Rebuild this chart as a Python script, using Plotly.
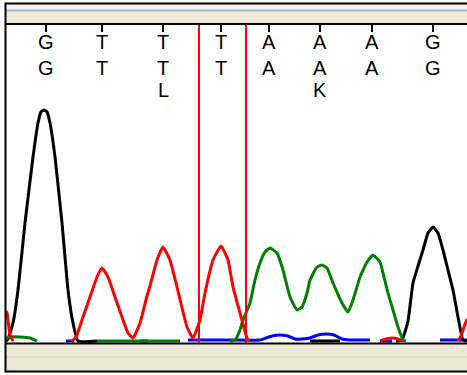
import plotly.graph_objects as go

W, H = 467, 375

# ---- base calls (scan position of each call) ----
base_pos = [46, 102, 163, 221, 269, 320, 372, 433]
call_row1 = ["G", "T", "T", "T", "A", "A", "A", "G"]
call_row2 = ["G", "T", "T", "T", "A", "A", "A", "G"]
call_row3 = ["", "", "L", "", "", "K", "", ""]

# ---- cursor / marker positions ----
marker_pos = [199, 246]

# ---- trace data: scan position vs. signal intensity ----
black_x = [6, 8, 13, 18, 25, 33, 38, 41, 44, 47, 50, 55, 62, 68, 73, 78, 97, None,
           310, 340, None,
           396, 402, 408, 413, 418, 423, 428, 433, 438, 443, 448, 453, 458, 463, 467]
black_y = [0, 2, 18, 51, 118, 184, 218, 229, 231, 229, 218, 184, 118, 51, 18, 0, 0, None,
           0, 0, None,
           0, 1, 20, 58, 75, 91, 108, 114, 108, 91, 71, 51, 24, 1, 0]

green_x = [6, 10, 20, 30, 37, None, 97, 180, None,
           230, 235, 240, 243, 250, 255, 260, 265, 270, 277, 283, 290, 297, 302, 307,
           310, 317, 322, 327, 333, 342, 348, 353, 360, 367, 373, 380, 383, 388, 393,
           398, 403, 406]
green_y = [2, 4, 4, 3, 0, None, 0, 0, None,
           0, 1, 11, 21, 38, 61, 78, 89, 93, 88, 71, 44, 31, 34, 48,
           61, 74, 76, 73, 58, 38, 29, 41, 64, 79, 86, 79, 68, 48, 31,
           14, 1, 0]

blue_x = [66, 74, None, 140, 148, None,
          188, 230, 260, 266, 272, 280, 288, 295, 302, 310, 318, 326, 334, 342, 350, 370, None,
          380, 392, None, 440, 467]
blue_y = [0, 0, None, 0, 0, None,
          1, 1, 1, 3, 5, 6, 5, 2, 2, 3, 6, 7, 6, 2, 1, 1, None,
          0, 0, None, 1, 1]

red_x = [6, 7, 10, 13, None,
         72, 76, 83, 90, 97, 102, 108, 115, 122, 128, 133, 140, 147, 150, 157, 163, 170,
         177, 187, 193, 200, 205, 213, 221, 228, 233, 240, 247, 249, None,
         380, 386, 392, 398, 402, None,
         458, 461, 464, 467]
red_y = [30, 28, 6, 0, None,
         0, 4, 24, 44, 64, 73, 64, 44, 24, 8, 3, 18, 45, 55, 81, 94, 81,
         54, 14, 3, 21, 48, 81, 95, 81, 54, 28, 3, 0, None,
         0, 2, 3, 2, 0, None,
         0, 5, 14, 22]


def px(x):
    return x / W


def py(y):
    return (H - y) / H


fig = go.Figure()
for xs, ys, col in [(blue_x, blue_y, "#0000FF"),
                    (black_x, black_y, "#000000"),
                    (green_x, green_y, "#008000"),
                    (red_x, red_y, "#FF0000")]:
    fig.add_trace(go.Scatter(x=xs, y=ys, mode="lines", connectgaps=False,
                             line=dict(color=col, width=3, shape="spline", smoothing=0.4),
                             hoverinfo="skip", showlegend=False))

shapes = []
# top band
shapes.append(dict(type="rect", xref="paper", yref="paper", x0=px(5), x1=1, y0=py(24), y1=py(3),
                   fillcolor="#ECE9D8", line=dict(width=0), layer="above"))
shapes.append(dict(type="rect", xref="paper", yref="paper", x0=px(5), x1=1, y0=py(10), y1=py(3),
                   fillcolor="#F6F5F0", line=dict(width=0), layer="above"))
shapes.append(dict(type="line", xref="paper", yref="paper", x0=px(5), x1=1, y0=py(10.5), y1=py(10.5),
                   line=dict(color="#A3B7D1", width=2), layer="above"))
shapes.append(dict(type="line", xref="paper", yref="paper", x0=px(5), x1=1, y0=py(3.5), y1=py(3.5),
                   line=dict(color="#000000", width=2), layer="above"))
shapes.append(dict(type="line", xref="paper", yref="paper", x0=px(5), x1=1, y0=py(24), y1=py(24),
                   line=dict(color="#000000", width=2), layer="above"))
# bottom band
shapes.append(dict(type="rect", xref="paper", yref="paper", x0=px(5), x1=1, y0=py(371.5), y1=py(343.5),
                   fillcolor="#ECE9D8", line=dict(width=0), layer="above"))
shapes.append(dict(type="line", xref="paper", yref="paper", x0=px(5), x1=1, y0=py(357), y1=py(357),
                   line=dict(color="#D6D2C2", width=1.5), layer="above"))
shapes.append(dict(type="line", xref="paper", yref="paper", x0=px(5), x1=1, y0=py(343.5), y1=py(343.5),
                   line=dict(color="#000000", width=2), layer="above"))
shapes.append(dict(type="line", xref="paper", yref="paper", x0=px(5), x1=1, y0=py(371.5), y1=py(371.5),
                   line=dict(color="#000000", width=2), layer="above"))
# left border
shapes.append(dict(type="line", xref="paper", yref="paper", x0=px(5.5), x1=px(5.5), y0=py(372.5), y1=py(2.5),
                   line=dict(color="#000000", width=2), layer="above"))
# base tick marks
for bp in base_pos:
    shapes.append(dict(type="line", xref="x", yref="paper", x0=bp, x1=bp, y0=py(25), y1=py(32),
                       line=dict(color="#000000", width=2)))
# marker lines
for mp in marker_pos:
    shapes.append(dict(type="line", xref="x", yref="paper", x0=mp, x1=mp, y0=py(343), y1=py(25),
                       line=dict(color="#FF0000", width=2)))

annotations = []
for row, ypix in [(call_row1, 42.5), (call_row2, 67.5), (call_row3, 90.5)]:
    for bp, t in zip(base_pos, row):
        if not t:
            continue
        annotations.append(dict(x=bp, xref="x", y=py(ypix), yref="paper", text=t, showarrow=False,
                                xanchor="center", yanchor="middle",
                                font=dict(family="Liberation Sans, Arial, sans-serif", size=20,
                                          color="#000000")))

fig.update_layout(
    width=W, height=H,
    margin=dict(l=0, r=0, t=0, b=0, pad=0),
    paper_bgcolor="#FFFFFF", plot_bgcolor="#FFFFFF",
    xaxis=dict(domain=[0, 1], range=[0, W], visible=False, fixedrange=True),
    yaxis=dict(domain=[py(344), py(25)], range=[-3, 316], visible=False, fixedrange=True),
    shapes=shapes, annotations=annotations,
    showlegend=False,
)

fig.write_html("out.html", config={"displayModeBar": False},
               post_script="document.body.style.margin='0px';document.body.style.padding='0px';"
                           "document.body.style.overflow='hidden';")
